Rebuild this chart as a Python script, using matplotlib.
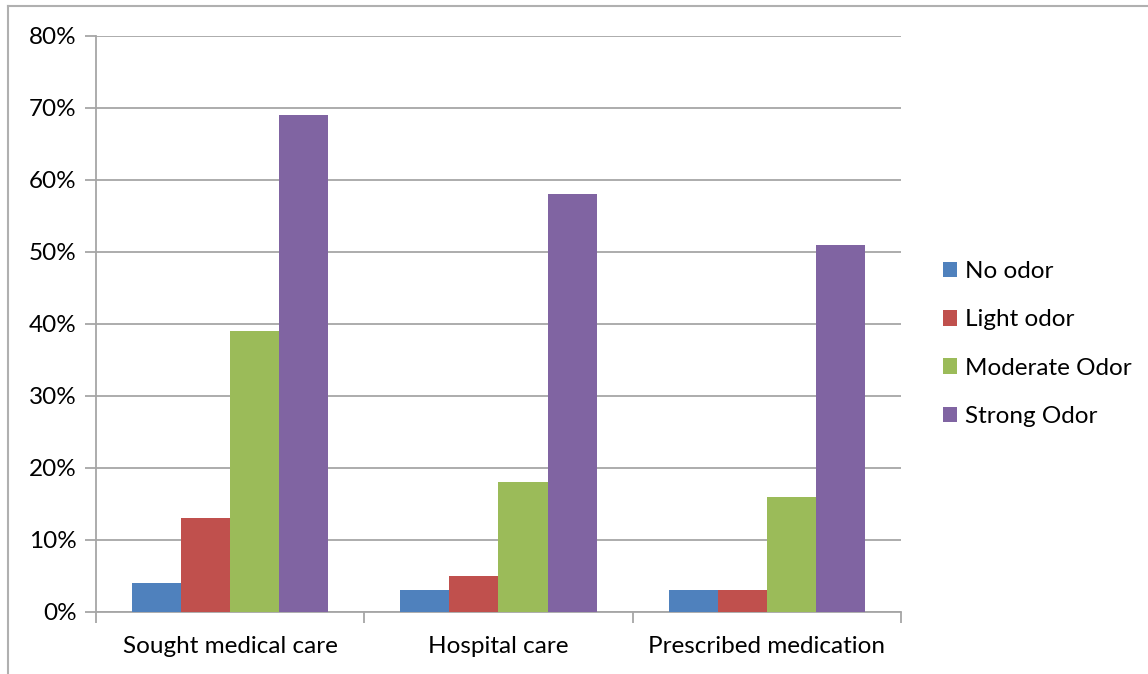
import matplotlib
matplotlib.use("Agg")
import matplotlib.pyplot as plt
from matplotlib.lines import Line2D
from matplotlib.ticker import FixedLocator, PercentFormatter

categories = ["Sought medical care", "Hospital care", "Prescribed medication"]
series_names = ["No odor", "Light odor", "Moderate Odor", "Strong Odor"]
no_odor = [4, 3, 3]
light_odor = [13, 5, 3]
moderate_odor = [39, 18, 16]
strong_odor = [69, 58, 51]
series_values = [no_odor, light_odor, moderate_odor, strong_odor]
colors = ["#4F81BD", "#C0504D", "#9BBB59", "#8064A2"]

plt.rcParams["font.family"] = ["Lato", "DejaVu Sans"]

fig = plt.figure(figsize=(11.48, 6.74), dpi=100)
W, H = 1148, 674
ax = fig.add_axes([96 / W, 1 - 612 / H, (901 - 96) / W, (612 - 36) / H])

grid_c = "#A6A6A6"
fs = 17.5
bar_w = 0.183
n = len(series_names)
for k, (name, vals, c) in enumerate(zip(series_names, series_values, colors)):
    xs = [i + 0.5 + (k - (n - 1) / 2) * bar_w for i in range(len(categories))]
    ax.bar(xs, vals, width=bar_w, color=c, label=name, zorder=3, linewidth=0)

ax.set_xlim(0, 3)
ax.set_ylim(0, 80)
ax.set_yticks(range(0, 81, 10))
ax.yaxis.set_major_formatter(PercentFormatter(decimals=0))
ax.grid(axis="y", color=grid_c, linewidth=1.3, zorder=0)

ax.set_xticks([0.5, 1.5, 2.5])
ax.set_xticklabels(categories)
ax.xaxis.set_minor_locator(FixedLocator([0, 1, 2, 3]))
ax.tick_params(axis="x", which="major", length=0, pad=17, labelsize=fs)
ax.tick_params(axis="x", which="minor", length=8, width=1.3, color=grid_c)
ax.tick_params(axis="y", length=8, width=1.3, color=grid_c, labelsize=fs, pad=6)

for side in ["top", "right"]:
    ax.spines[side].set_visible(False)
for side in ["left", "bottom"]:
    ax.spines[side].set_color(grid_c)
    ax.spines[side].set_linewidth(1.3)

leg = fig.legend(loc="center left", bbox_to_anchor=(921 / W, 1 - 344 / H),
                 frameon=False, fontsize=fs, handlelength=0.6, handleheight=0.6,
                 handletextpad=0.3, labelspacing=1.12)

# outer chart frame (top and left edges)
fig.add_artist(Line2D([8 / W, 1], [1 - 6 / H, 1 - 6 / H], color="#B0B0B0", linewidth=1.5))
fig.add_artist(Line2D([8 / W, 8 / W], [0, 1 - 6 / H], color="#B0B0B0", linewidth=1.5))

fig.savefig("out.png", dpi=100, facecolor="white")
